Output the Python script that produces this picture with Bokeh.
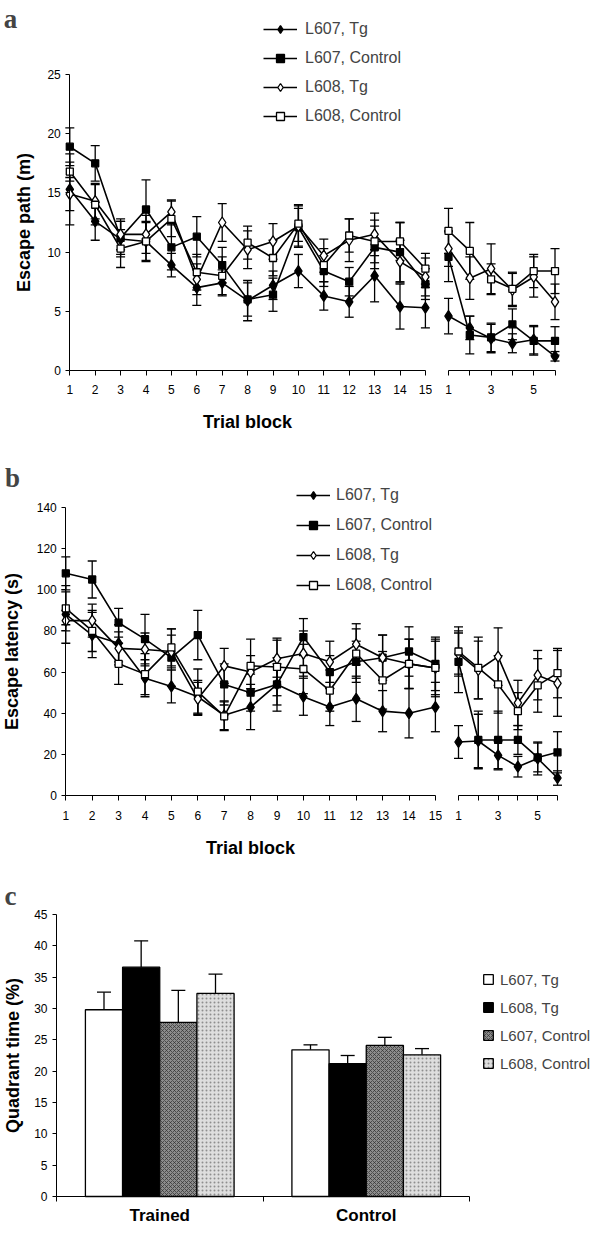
from bokeh.plotting import figure
from bokeh.models import (ColumnDataSource, Whisker, TeeHead, Legend, LegendItem,
                          Label, FixedTicker, Range1d)
from bokeh.layouts import column, row
from bokeh.embed import file_html
from bokeh.resources import INLINE

# ---------------- data ----------------
trials = list(range(1, 16))
probe_trials = list(range(1, 7))
series_labels = ["L607, Tg", "L607, Control", "L608, Tg", "L608, Control"]

# panel a: escape path (m)
a_l607_tg = [15.3, 12.6, 11.1, 10.9, 8.9, 7.0, 7.4, 5.9, 7.2, 8.4, 6.3, 5.8, 8.0, 5.4, 5.3]
a_l607_tg_err = [3.0, 1.6, 1.5, 1.6, 1.0, 1.5, 1.1, 1.7, 1.2, 1.4, 1.2, 1.3, 2.2, 1.9, 1.7]
a_l607_tg_probe = [4.6, 3.6, 2.7, 2.3, 2.6, 1.2]
a_l607_tg_probe_err = [1.5, 1.0, 1.2, 0.8, 1.2, 0.4]
a_l607_ctrl = [18.9, 17.5, 11.2, 13.6, 10.4, 11.3, 8.9, 6.0, 6.4, 12.1, 8.4, 7.5, 10.4, 10.0, 7.3]
a_l607_ctrl_err = [1.6, 1.5, 1.4, 2.5, 1.9, 1.7, 1.5, 1.4, 1.4, 1.6, 1.3, 1.2, 1.8, 2.5, 1.3]
a_l607_ctrl_probe = [9.6, 3.0, 2.8, 3.9, 2.5, 2.5]
a_l607_ctrl_probe_err = [2.1, 1.6, 1.2, 1.3, 1.2, 1.2]
a_l608_tg = [14.9, 14.3, 11.5, 11.5, 13.4, 7.7, 12.5, 10.2, 10.9, 12.2, 9.7, 11.0, 11.5, 9.2, 7.9]
a_l608_tg_err = [1.4, 1.5, 1.3, 1.6, 1.0, 1.3, 1.6, 1.6, 1.5, 1.8, 1.4, 1.8, 1.8, 1.8, 1.6]
a_l608_tg_probe = [10.3, 7.8, 8.6, 6.8, 7.9, 5.8]
a_l608_tg_probe_err = [1.5, 1.8, 2.1, 1.4, 1.7, 1.5]
a_l608_ctrl = [16.8, 14.0, 10.3, 10.9, 12.8, 8.3, 8.0, 10.8, 9.5, 12.4, 8.9, 11.4, 10.9, 10.9, 8.6]
a_l608_ctrl_err = [0.8, 1.7, 1.6, 1.7, 1.5, 1.5, 1.6, 1.4, 1.5, 1.5, 1.4, 1.4, 1.8, 1.6, 1.3]
a_l608_ctrl_probe = [11.8, 10.1, 7.7, 6.9, 8.4, 8.4]
a_l608_ctrl_probe_err = [1.9, 2.4, 1.3, 1.4, 1.4, 1.9]

# panel b: escape latency (s)
b_l607_tg = [88, 78, 74, 57, 53, 48, 39, 43, 54, 48, 43, 47, 41, 40, 43]
b_l607_tg_err = [14, 11, 9, 9, 8, 8, 7, 11, 13, 9, 9, 11, 10, 12, 12]
b_l607_tg_probe = [26, 26.5, 19.5, 14, 18, 8.5]
b_l607_tg_probe_err = [8, 13, 7, 5, 8, 3.5]
b_l607_ctrl = [108, 105, 84, 76, 67, 78, 54, 50, 54, 77, 60, 65, 67, 70, 64]
b_l607_ctrl_err = [8, 9, 7, 12, 14, 12, 10, 9, 10, 9, 8, 10, 11, 12, 13]
b_l607_ctrl_probe = [65, 27, 27, 27, 18.5, 21]
b_l607_ctrl_probe_err = [15, 14, 14, 7, 7, 10]
b_l608_tg = [85, 85, 71.5, 71, 70, 47, 63, 60, 66.5, 69, 65, 73.5, 67, 64, 62]
b_l608_tg_err = [5, 8, 8, 8, 8, 8, 8.5, 8, 9, 11, 10, 10, 11, 12, 13]
b_l608_tg_probe = [69, 61, 67.5, 45, 58.5, 54.5]
b_l608_tg_probe_err = [10, 14, 14, 11, 12, 16]
b_l608_ctrl = [91, 80, 64, 59, 72, 50.5, 38.5, 63, 62.5, 61.5, 51, 69, 56, 64, 62]
b_l608_ctrl_err = [8, 10, 10, 10, 9, 11, 7, 13, 14, 12, 10, 12, 14, 12, 14]
b_l608_ctrl_probe = [70, 62, 54, 41, 53.5, 59.5]
b_l608_ctrl_probe_err = [12, 15, 14, 9, 13, 12]

# panel c: quadrant time (%)
c_categories = ["Trained", "Control"]
c_groups = ["L607, Tg", "L608, Tg", "L607, Control", "L608, Control"]
c_l607_tg = [29.8, 23.4]
c_l607_tg_err = [2.8, 0.8]
c_l608_tg = [36.6, 21.2]
c_l608_tg_err = [4.2, 1.3]
c_l607_ctrl = [27.8, 24.1]
c_l607_ctrl_err = [5.1, 1.3]
c_l608_ctrl = [32.4, 22.6]
c_l608_ctrl_err = [3.1, 1.0]

# ---------------- styling ----------------
FONT = "Liberation Sans"
SERIF = "Liberation Serif"
series_markers = ["diamond", "square", "diamond", "square"]
series_fills = ["black", "black", "white", "white"]
series_sizes = [11, 7, 11, 7]


def span(frame_left_px, anchor_px, anchor_val, unit_px, width_px):
    """Range whose frame starts at frame_left_px, with anchor_val drawn at anchor_px."""
    start = anchor_val - (anchor_px - frame_left_px) / unit_px
    return Range1d(start, start + width_px / unit_px)


def base_style(p):
    p.grid.visible = False
    p.outline_line_color = None
    p.background_fill_color = "white"
    p.border_fill_color = "white"
    for ax in p.axis:
        ax.axis_line_color = "black"
        ax.axis_line_width = 1
        ax.major_tick_line_color = "black"
        ax.minor_tick_line_color = None
        ax.major_label_text_font = FONT
        ax.major_label_text_color = "black"
        ax.axis_label_text_font = FONT
        ax.axis_label_text_font_style = "bold"
        ax.axis_label_text_color = "black"


def add_series(p, xs, ys, errs, marker, fill, size):
    src = ColumnDataSource(dict(x=xs, y=ys,
                                lo=[y - e for y, e in zip(ys, errs)],
                                hi=[y + e for y, e in zip(ys, errs)]))
    w = Whisker(source=src, base="x", lower="lo", upper="hi",
                line_color="black", line_width=1.3,
                upper_head=TeeHead(size=9, line_color="black", line_width=1.3),
                lower_head=TeeHead(size=9, line_color="black", line_width=1.3))
    p.add_layout(w)
    lr = p.line("x", "y", source=src, line_color="black", line_width=1.6)
    sr = p.scatter("x", "y", source=src, marker=marker, size=size,
                   fill_color=fill, line_color="black", line_width=1.3)
    return lr, sr


def full_frame_fig(width, height, xr, yr):
    return figure(width=width, height=height, x_range=xr, y_range=yr,
                  output_backend="svg", toolbar_location=None,
                  min_border_left=0, min_border_right=0,
                  min_border_top=0, min_border_bottom=0)


def line_panel(letter, ylabel, ymax, ystep, train, probe, g):
    height = g["fig_h"]
    bottom = g["bottom"]
    y_unit = g["y_unit"]
    y0 = -bottom / y_unit
    y1 = (height - bottom) / y_unit
    pl = full_frame_fig(g["wl"], height, span(0, g["x1_l"], 1, g["unit_l"], g["wl"]), Range1d(y0, y1))
    pr = full_frame_fig(g["wr"], height, span(0, g["x1_r"], 1, g["unit_r"], g["wr"]), Range1d(y0, y1))
    base_style(pl)
    base_style(pr)

    # y axis drawn at trial 1
    pl.yaxis.fixed_location = 1
    pl.yaxis.bounds = (0, ymax)
    pl.yaxis.ticker = FixedTicker(ticks=list(range(0, ymax + 1, ystep)))
    pl.yaxis.major_tick_out = 4
    pl.yaxis.major_tick_in = 0
    pl.yaxis.major_label_standoff = 5
    pl.yaxis.major_label_text_font_size = "12px"
    pl.yaxis.axis_label = ylabel
    pl.yaxis.axis_label_text_font_size = "18px"
    pl.yaxis.axis_label_standoff = g["ylab_standoff"]
    pr.yaxis.visible = False

    pl.xaxis.ticker = FixedTicker(ticks=trials)
    pl.xaxis.bounds = (1, 15)
    pr.xaxis.ticker = FixedTicker(ticks=probe_trials)
    pr.xaxis.bounds = (1, 6)
    pr.xaxis.major_label_overrides = {t: (str(t) if t % 2 == 1 else "") for t in probe_trials}
    for ax in (pl.xaxis[0], pr.xaxis[0]):
        ax.fixed_location = 0
        ax.major_tick_out = 5
        ax.major_tick_in = 0
        ax.major_label_standoff = g["tick_standoff"]
        ax.major_label_text_font_size = "12px"
    pl.xaxis.axis_label = "Trial block"
    pl.xaxis.axis_label_text_font_size = "18px"
    pl.xaxis.axis_label_standoff = 15

    items = []
    for k in range(4):
        ys, errs = train[k]
        lr, sr = add_series(pl, trials, ys, errs, series_markers[k], series_fills[k], series_sizes[k])
        pys, perrs = probe[k]
        add_series(pr, probe_trials, pys, perrs, series_markers[k], series_fills[k], series_sizes[k])
        items.append(LegendItem(label=series_labels[k], renderers=[lr, sr]))

    lx, ly = g["legend_xy"]
    legend = Legend(items=items, location=(lx, ly + bottom), orientation="vertical",
                    glyph_width=34, glyph_height=20, label_height=20, spacing=g["legend_spacing"],
                    padding=0, margin=0, border_line_color=None, background_fill_alpha=0,
                    label_text_font=FONT, label_text_font_size="16px",
                    label_standoff=g["legend_standoff"])
    pl.add_layout(legend)
    tx, ty = g["letter_xy"]
    pl.add_layout(Label(x=tx, y=ty + bottom, x_units="screen", y_units="screen",
                        text=letter, text_font=SERIF, text_font_style="bold",
                        text_font_size="27px", text_align="center", text_baseline="middle"))
    return row(pl, pr)


panel_a = line_panel(
    "a", "Escape path (m)", 25, 5,
    [(a_l607_tg, a_l607_tg_err), (a_l607_ctrl, a_l607_ctrl_err),
     (a_l608_tg, a_l608_tg_err), (a_l608_ctrl, a_l608_ctrl_err)],
    [(a_l607_tg_probe, a_l607_tg_probe_err), (a_l607_ctrl_probe, a_l607_ctrl_probe_err),
     (a_l608_tg_probe, a_l608_tg_probe_err), (a_l608_ctrl_probe, a_l608_ctrl_probe_err)],
    dict(fig_h=442, bottom=72, y_unit=296 / 25,
         wl=432, x1_l=69.3, unit_l=25.4,
         wr=167, x1_r=16, unit_r=21.3,
         ylab_standoff=10, tick_standoff=9,
         legend_xy=(263, 244), legend_spacing=9, legend_standoff=8,
         letter_xy=(10, 352)))

panel_b = line_panel(
    "b", "Escape latency (s)", 140, 20,
    [(b_l607_tg, b_l607_tg_err), (b_l607_ctrl, b_l607_ctrl_err),
     (b_l608_tg, b_l608_tg_err), (b_l608_ctrl, b_l608_ctrl_err)],
    [(b_l607_tg_probe, b_l607_tg_probe_err), (b_l607_ctrl_probe, b_l607_ctrl_probe_err),
     (b_l608_tg_probe, b_l608_tg_probe_err), (b_l608_ctrl_probe, b_l608_ctrl_probe_err)],
    dict(fig_h=422, bottom=69, y_unit=288 / 140,
         wl=442, x1_l=65.3, unit_l=26.4,
         wr=157, x1_r=16, unit_r=19.8,
         ylab_standoff=11, tick_standoff=10,
         legend_xy=(296, 200), legend_spacing=10, legend_standoff=6,
         letter_xy=(12, 318)))

# ---------------- panel c ----------------
c_bottom = 31
c_h = 363
c_yunit = 282 / 45
pc = full_frame_fig(599, c_h, span(0, 56, 0, 206.5, 599),
                    Range1d(-c_bottom / c_yunit, (c_h - c_bottom) / c_yunit))
base_style(pc)
pc.yaxis.fixed_location = 0
pc.yaxis.bounds = (0, 45)
pc.yaxis.ticker = FixedTicker(ticks=list(range(0, 46, 5)))
pc.yaxis.major_tick_out = 4
pc.yaxis.major_tick_in = 0
pc.yaxis.major_label_standoff = 5
pc.yaxis.major_label_text_font_size = "12px"
pc.yaxis.axis_label = "Quadrant time (%)"
pc.yaxis.axis_label_text_font_size = "18px"
pc.yaxis.axis_label_standoff = 8
pc.xaxis.fixed_location = 0
pc.xaxis.bounds = (0, len(c_categories))
pc.xaxis.ticker = FixedTicker(ticks=[i + 0.5 for i in range(len(c_categories))],
                              minor_ticks=list(range(len(c_categories) + 1)))
pc.xaxis.major_label_overrides = {i + 0.5: c for i, c in enumerate(c_categories)}
pc.xaxis.major_tick_out = 0
pc.xaxis.major_tick_in = 0
pc.xaxis.minor_tick_line_color = "black"
pc.xaxis.minor_tick_out = 5
pc.xaxis.minor_tick_in = 0
pc.xaxis.major_label_standoff = 4
pc.xaxis.major_label_text_font_size = "17px"
pc.xaxis.major_label_text_font_style = "bold"

bar_w = 0.18
bar_sets = [
    (c_l607_tg, c_l607_tg_err, dict(fill_color="white")),
    (c_l608_tg, c_l608_tg_err, dict(fill_color="black")),
    (c_l607_ctrl, c_l607_ctrl_err, dict(fill_color="#8c8c8c", hatch_pattern="diagonal_cross",
                                         hatch_color="#303030", hatch_scale=4, hatch_weight=1,
                                         hatch_alpha=0.7)),
    (c_l608_ctrl, c_l608_ctrl_err, dict(fill_color="#dedede", hatch_pattern="dot",
                                         hatch_color="#7a7a7a", hatch_scale=4, hatch_weight=1,
                                         hatch_alpha=0.8)),
]
c_items = []
for k, (vals, errs, style) in enumerate(bar_sets):
    xs = [i + 0.5 + (k - 1.5) * bar_w for i in range(len(c_categories))]
    src = ColumnDataSource(dict(x=xs, top=vals, hi=[v + e for v, e in zip(vals, errs)]))
    pc.add_layout(Whisker(source=src, base="x", lower="top", upper="hi",
                          line_color="black", line_width=1.3, lower_head=None,
                          upper_head=TeeHead(size=14, line_color="black", line_width=1.3)))
    r = pc.vbar(x="x", top="top", width=bar_w, source=src, line_color="black",
                line_width=1.3, **style)
    c_items.append(LegendItem(label=c_groups[k], renderers=[r]))

c_legend = Legend(items=c_items, location=(482, 123 + c_bottom), orientation="vertical",
                  glyph_width=12, glyph_height=12, label_height=20, spacing=8,
                  padding=0, margin=0, border_line_color=None, background_fill_alpha=0,
                  label_text_font=FONT, label_text_font_size="15px", label_standoff=6)
pc.add_layout(c_legend)
pc.add_layout(Label(x=10, y=301 + c_bottom, x_units="screen", y_units="screen",
                    text="c", text_font=SERIF, text_font_style="bold",
                    text_font_size="27px", text_align="center", text_baseline="middle"))

layout = column(panel_a, panel_b, pc)
open("out.html", "w").write(file_html(layout, INLINE))
